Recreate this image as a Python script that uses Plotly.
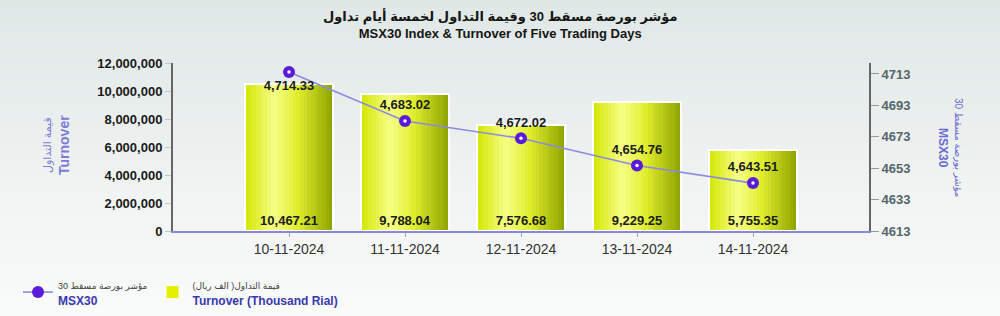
import plotly.graph_objects as go

# ---------------- data ----------------
dates = ["10-11-2024", "11-11-2024", "12-11-2024", "13-11-2024", "14-11-2024"]
turnover_thousand = [10467.21, 9788.04, 7576.68, 9229.25, 5755.35]   # thousand rial (labels)
msx30 = [4714.33, 4683.02, 4672.02, 4654.76, 4643.51]
left_ticks = [0, 2000000, 4000000, 6000000, 8000000, 10000000, 12000000]
right_ticks = [4613, 4633, 4653, 4673, 4693, 4713]

turnover_rial = [v * 1000 for v in turnover_thousand]

W, H = 1000, 316
ML, MR, MT, MB = 173, 131, 63, 85
PW, PH = W - ML - MR, H - MT - MB

def px_x(p):
    return (p - ML) / PW

def px_y(p):
    return (H - MB - p) / PH

FONT = "Liberation Sans, Arial, DejaVu Sans, sans-serif"

fig = go.Figure()

# -------- bars: horizontal gradient built from thin slices --------
bar_w = 0.76
N = 24
stops = [(0.0, (210, 230, 0)), (0.33, (247, 255, 135)), (0.6, (224, 238, 45)), (1.0, (140, 162, 0))]

def grad(t):
    for (t0, c0), (t1, c1) in zip(stops[:-1], stops[1:]):
        if t0 <= t <= t1:
            f = (t - t0) / (t1 - t0)
            return "rgb(%d,%d,%d)" % tuple(round(a + (b - a) * f) for a, b in zip(c0, c1))
    return "rgb(%d,%d,%d)" % stops[-1][1]

sw = bar_w / N
for i in range(N):
    col = grad((i + 0.5) / N)
    fig.add_trace(go.Bar(
        x=dates, y=turnover_rial, width=sw * 1.02, offset=-bar_w / 2 + i * sw,
        marker=dict(color=col, line=dict(width=0)),
        showlegend=False, hoverinfo="skip",
    ))

# outline + labels
fig.add_trace(go.Bar(
    x=dates, y=turnover_rial, width=bar_w, offset=-bar_w / 2,
    marker=dict(color="rgba(0,0,0,0)", line=dict(color="white", width=2)),
    text=[f"{v:,.2f}" for v in turnover_thousand],
    textposition="inside", insidetextanchor="start",
    textfont=dict(family=FONT, size=13, color="#1c1c1c", weight="bold"),
    showlegend=False, hoverinfo="skip", cliponaxis=False,
))
# legend entry for turnover
fig.add_trace(go.Bar(
    x=[None], y=[None],
    marker=dict(color="#e4f000", line=dict(width=0)),
    name="<span style='font-size:9px;color:#444;font-weight:normal'>قيمة التداول( الف ريال)</span><br><b>Turnover (Thousand Rial)</b>",
    legendrank=2,
))

# -------- line --------
fig.add_trace(go.Scatter(
    x=dates, y=msx30, yaxis="y2", mode="lines+markers+text",
    line=dict(color="#8c8ae0", width=1.6),
    marker=dict(color="#5a1cd8", size=12, line=dict(width=0)),
    text=[f"{v:,.2f}" for v in msx30],
    textposition=["bottom center"] + ["top center"] * 4,
    textfont=dict(family=FONT, size=13, color="#1c1c1c", weight="bold"),
    name="<span style='font-size:9px;color:#444;font-weight:normal'>مؤشر بورصة مسقط 30</span><br><b>MSX30</b>",
    legendrank=1, cliponaxis=False,
))
fig.add_trace(go.Scatter(
    x=dates, y=msx30, yaxis="y2", mode="markers",
    marker=dict(color="white", size=3.5, line=dict(width=0)),
    showlegend=False, hoverinfo="skip", cliponaxis=False,
))

# -------- background gradient --------
shapes = []
NB = 40
top_c, bot_c = (224, 232, 230), (250, 251, 251)
for i in range(NB):
    f = i / (NB - 1)
    c = tuple(round(a + (b - a) * f) for a, b in zip(top_c, bot_c))
    y_top = i * H / NB
    y_bot = (i + 1) * H / NB + 0.5
    shapes.append(dict(
        type="rect", xref="paper", yref="paper", layer="below",
        x0=px_x(0), x1=px_x(W), y0=px_y(min(y_bot, H)), y1=px_y(y_top),
        fillcolor="rgb(%d,%d,%d)" % c, line=dict(width=0),
    ))

annotations = [
    dict(xref="paper", yref="paper", x=px_x(500), y=px_y(25), xanchor="center", yanchor="middle",
         text="<b>مؤشر بورصة مسقط 30 وقيمة التداول لخمسة أيام تداول</b><br><b>MSX30 Index & Turnover of Five Trading Days</b>",
         showarrow=False, font=dict(family=FONT, size=13, color="#151515")),
    dict(xref="paper", yref="paper", x=px_x(56), y=px_y(145), xanchor="center", yanchor="middle",
         textangle=-90,
         text="<span style='font-size:11px'>قيمة التداول</span><br><b>Turnover</b>",
         showarrow=False, font=dict(family=FONT, size=14, color="#7c7ad8")),
    dict(xref="paper", yref="paper", x=px_x(950), y=px_y(147), xanchor="center", yanchor="middle",
         textangle=90,
         text="<span style='font-size:10px'>مؤشر بورصة مسقط 30</span><br><b>MSX30</b>",
         showarrow=False, font=dict(family=FONT, size=12, color="#6c6ad0")),
]

fig.update_layout(
    width=W, height=H,
    margin=dict(l=ML, r=MR, t=MT, b=MB, autoexpand=False),
    paper_bgcolor="#f4f6f6", plot_bgcolor="rgba(0,0,0,0)",
    barmode="overlay", bargap=0,
    font=dict(family=FONT),
    shapes=shapes, annotations=annotations,
    xaxis=dict(
        type="category", categoryorder="array", categoryarray=dates, range=[-1, 5],
        showline=True, linecolor="#8a88dc", linewidth=2, showgrid=False, zeroline=False,
        ticks="outside", ticklen=4, tickcolor="#aaa", tickwidth=1,
        tickfont=dict(family=FONT, size=14, color="#333"),
    ),
    yaxis=dict(
        range=[0, 12000000], tickvals=left_ticks, tickformat=",d",
        showline=True, linecolor="#666", linewidth=2, showgrid=False, zeroline=False,
        ticks="outside", ticklen=6, tickcolor="#c4c8c8", tickwidth=1,
        tickfont=dict(family=FONT, size=13, color="#1a1a1a", weight="bold"),
    ),
    yaxis2=dict(
        overlaying="y", side="right", range=[4613, 4720], tickvals=right_ticks,
        showline=True, linecolor="#666", linewidth=2, showgrid=False, zeroline=False,
        ticks="outside", ticklen=8, tickcolor="#999", tickwidth=1,
        tickfont=dict(family=FONT, size=13, color="#55656a", weight="bold"),
    ),
    legend=dict(
        orientation="h", x=px_x(18), y=px_y(270), xanchor="left", yanchor="top",
        bgcolor="rgba(0,0,0,0)", font=dict(family=FONT, size=12, color="#3838b0"),
        traceorder="normal", itemwidth=30,
    ),
    showlegend=True,
)

fig.write_html("out.html")
